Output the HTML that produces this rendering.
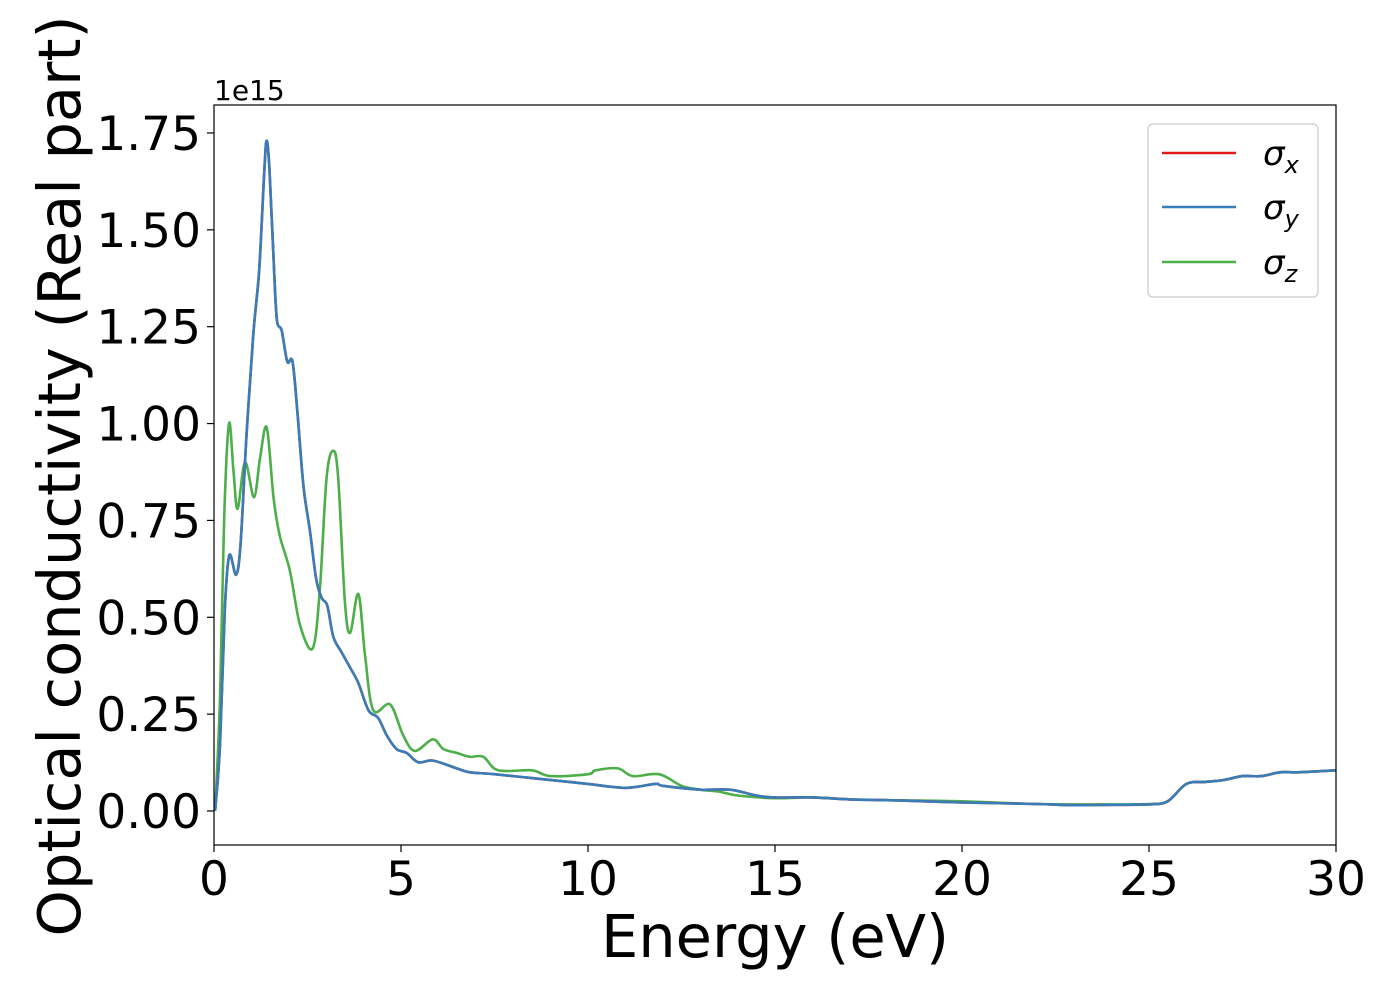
<!DOCTYPE html>
<html><head><meta charset="utf-8"><style>
body{margin:0;background:#fff;}
svg text{font-family:"DejaVu Sans","Liberation Sans",sans-serif;}
</style></head><body>
<svg id="chart" width="1400" height="1000" xmlns="http://www.w3.org/2000/svg">
<g id="plot"></g>
</svg>
<script>
const xTicks=[0,5,10,15,20,25,30];
const yTicks=[0,0.25,0.5,0.75,1.0,1.25,1.5,1.75];
const yTickLabels=["0.00","0.25","0.50","0.75","1.00","1.25","1.50","1.75"];
const energyXY=[0.03,0.16,0.29,0.41,0.59,0.71,0.87,1.05,1.21,1.35,1.41,1.48,1.59,1.68,1.81,1.96,2.10,2.23,2.39,2.57,2.73,2.88,3.03,3.19,3.41,3.64,3.86,4.13,4.39,4.62,4.88,5.15,5.46,5.86,6.49,6.84,7.5,8.5,9.5,10,11,11.8,12,13,13.8,14.5,15,16,17,18,19,20,22,23,24,25,25.5,26,26.5,27,27.5,28,28.5,29,30];
const sigmaX=[0,0.17,0.52,0.66,0.61,0.69,0.97,1.23,1.40,1.66,1.73,1.66,1.43,1.27,1.24,1.16,1.16,1.03,0.84,0.72,0.60,0.55,0.53,0.45,0.41,0.37,0.33,0.26,0.24,0.195,0.16,0.15,0.126,0.13,0.11,0.10,0.095,0.085,0.075,0.07,0.06,0.07,0.065,0.055,0.055,0.04,0.035,0.035,0.03,0.028,0.025,0.022,0.018,0.015,0.016,0.017,0.025,0.07,0.075,0.08,0.09,0.09,0.1,0.1,0.105];
const sigmaY=sigmaX.slice();
const energyZ=[0.03,0.16,0.27,0.40,0.52,0.63,0.83,1.07,1.23,1.41,1.59,1.76,2.03,2.30,2.64,2.83,3.01,3.19,3.32,3.50,3.64,3.86,4.04,4.26,4.71,5.06,5.37,5.85,6.13,6.49,6.84,7.2,7.6,8.5,9,10,10.2,10.8,11.2,11.9,12.5,13,13.5,14,15,16,17,18,20,22,24,25,25.5,26,26.5,27,27.5,28,28.5,29,30];
const sigmaZ=[0,0.29,0.75,1.00,0.88,0.78,0.90,0.81,0.91,0.99,0.81,0.71,0.62,0.48,0.42,0.57,0.86,0.93,0.86,0.54,0.46,0.56,0.40,0.26,0.275,0.195,0.155,0.185,0.16,0.15,0.14,0.14,0.105,0.105,0.09,0.095,0.105,0.11,0.09,0.095,0.065,0.055,0.05,0.04,0.033,0.035,0.03,0.028,0.025,0.018,0.017,0.018,0.025,0.07,0.075,0.08,0.09,0.09,0.1,0.1,0.105];

const L=214,R=1336,T=105,B=845;
const X=v=>L+(v-0)/30*(R-L);
const Y=v=>811-v/0.25*96.86;
const NS="http://www.w3.org/2000/svg";
const g=document.getElementById('plot');
function mk(tag,attrs,txt){const e=document.createElementNS(NS,tag);for(const k in attrs)e.setAttribute(k,attrs[k]);if(txt!==undefined)e.textContent=txt;g.appendChild(e);return e;}
function line(xs,ys,color,name){
  const P=xs.map((x,i)=>[X(x),Y(ys[i])]);
  let d='M'+P[0][0].toFixed(1)+','+P[0][1].toFixed(1);
  for(let i=0;i<P.length-1;i++){
    const p0=P[Math.max(0,i-1)],p1=P[i],p2=P[i+1],p3=P[Math.min(P.length-1,i+2)];
    const c1=[p1[0]+(p2[0]-p0[0])/6,p1[1]+(p2[1]-p0[1])/6];
    const c2=[p2[0]-(p3[0]-p1[0])/6,p2[1]-(p3[1]-p1[1])/6];
    d+=' C'+c1[0].toFixed(1)+','+c1[1].toFixed(1)+' '+c2[0].toFixed(1)+','+c2[1].toFixed(1)+' '+p2[0].toFixed(1)+','+p2[1].toFixed(1);
  }
  const p=mk('path',{d:d,fill:'none',stroke:color,'stroke-width':2.6,'stroke-linejoin':'round'});
  
  
}
line(energyZ,sigmaZ,'#4daf4a','series-sigma-z');
line(energyXY,sigmaX,'#e41a1c','series-sigma-x');
line(energyXY,sigmaY,'#377eb8','series-sigma-y');
const fr=mk('rect',{x:L,y:T,width:R-L,height:B-T,fill:'none',stroke:'#000','stroke-width':1.2});

xTicks.forEach(t=>{
  mk('line',{x1:X(t),x2:X(t),y1:B,y2:B+7,stroke:'#000','stroke-width':1.2});
  const e=mk('text',{x:X(t),y:B+50,'font-size':47,'text-anchor':'middle'},String(t));
  
});
yTicks.forEach((t,i)=>{
  mk('line',{x1:L-7,x2:L,y1:Y(t),y2:Y(t),stroke:'#000','stroke-width':1.2});
  const e=mk('text',{x:L-13,y:Y(t)+17,'font-size':47,'text-anchor':'end'},yTickLabels[i]);
  
});
let e=mk('text',{x:214,y:100,'font-size':28},'1e15');

e=mk('text',{x:775,y:957,'font-size':59,'text-anchor':'middle'},'Energy (eV)');

e=mk('text',{x:0,y:0,'font-size':59,'text-anchor':'middle',transform:'translate(80,476) rotate(-90)'},'Optical conductivity (Real part)');

e=mk('rect',{x:1148,y:124,width:170,height:173,rx:5,fill:'#fff',stroke:'#ccc','stroke-width':1.2});

[['#e41a1c','x',153],['#377eb8','y',207],['#4daf4a','z',262]].forEach(([c,s,y])=>{
  mk('line',{x1:1162,x2:1236,y1:y,y2:y,stroke:c,'stroke-width':2.6});
  const t=mk('text',{x:1263,y:y+12,'font-size':34,'font-style':'italic'});
  
  t.innerHTML='σ<tspan font-size="24" dy="8">'+s+'</tspan>';
});
</script>
</body></html>
